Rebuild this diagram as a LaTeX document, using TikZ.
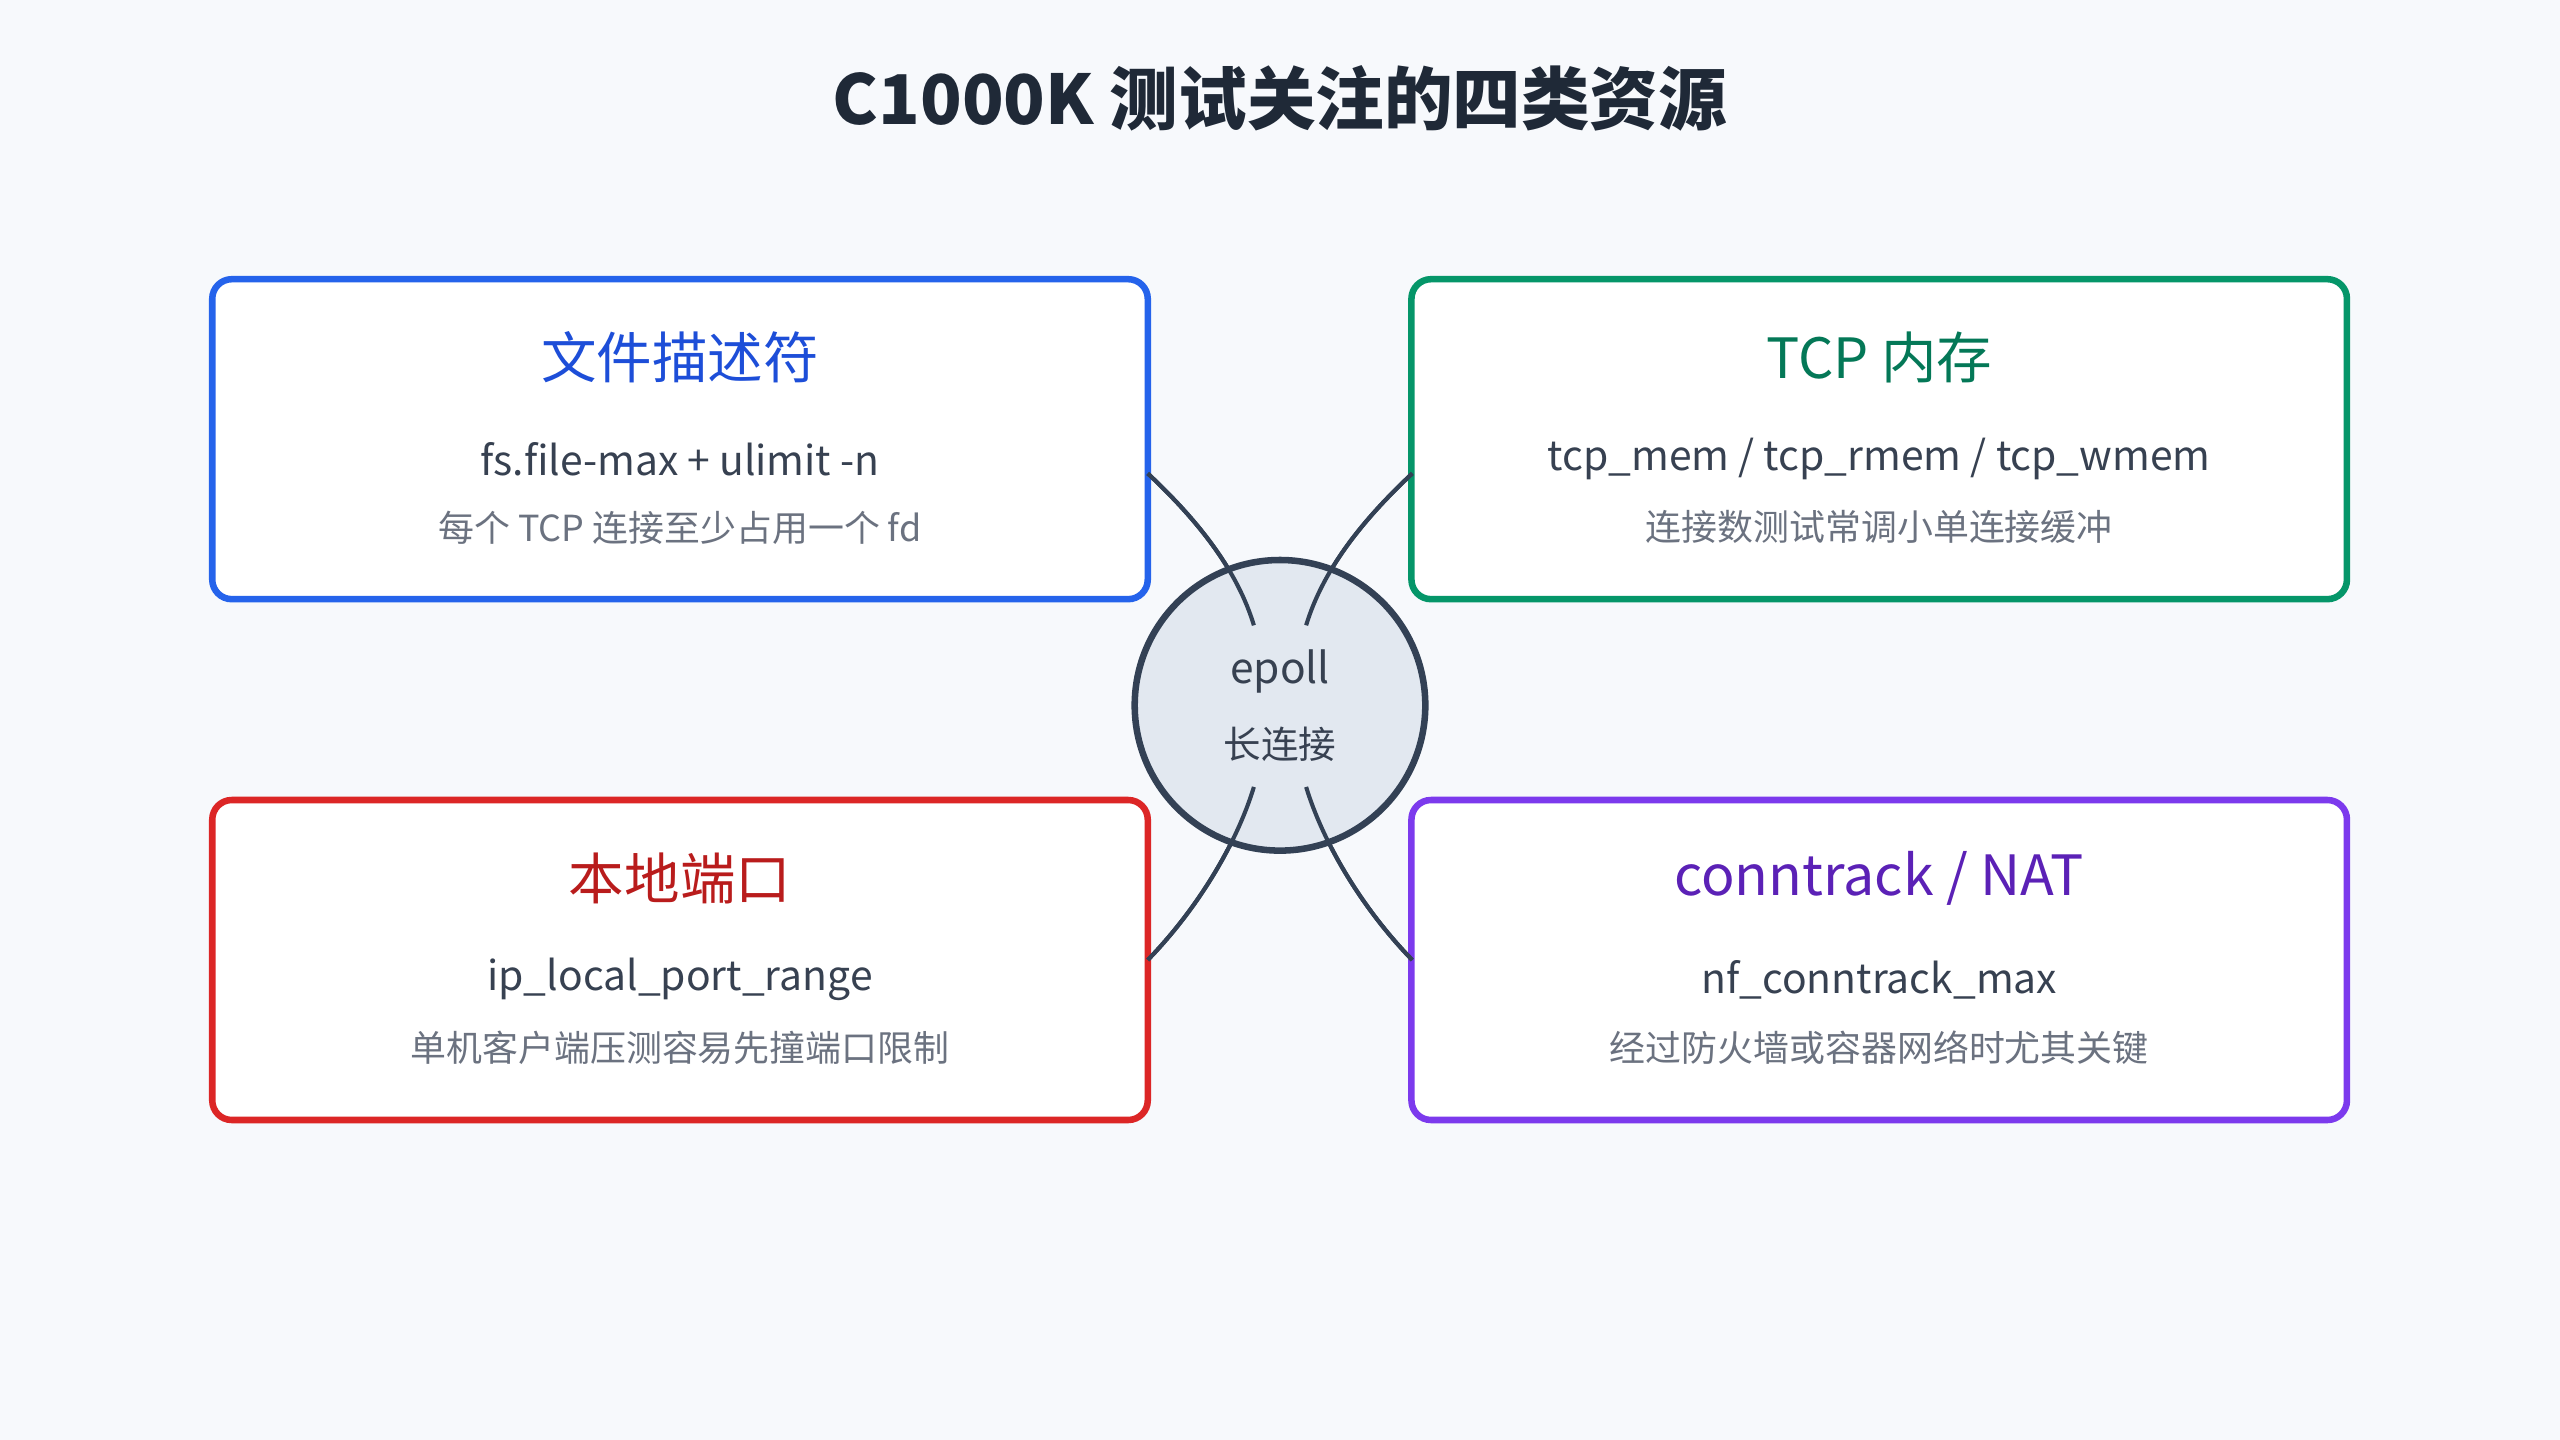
\documentclass[tikz,border=0pt]{standalone}
\usepackage{fontspec}
\setmainfont{Noto Sans CJK SC}
\definecolor{bg}{HTML}{F7F9FC}
\definecolor{cblue}{HTML}{2563EB}\definecolor{tblue}{HTML}{1D4ED8}
\definecolor{cgreen}{HTML}{059669}\definecolor{tgreen}{HTML}{047857}
\definecolor{cred}{HTML}{DC2626}\definecolor{tred}{HTML}{B91C1C}
\definecolor{cpurple}{HTML}{7C3AED}\definecolor{tpurple}{HTML}{5B21B6}
\definecolor{dark}{HTML}{1F2937}\definecolor{body}{HTML}{374151}
\definecolor{gray}{HTML}{6B7280}\definecolor{slate}{HTML}{334155}
\definecolor{cfill}{HTML}{E2E8F0}
\begin{document}
\begin{tikzpicture}[x=1pt,y=-1pt,
 card/.style={draw=#1,line width=4pt,rounded corners=12pt,fill=white,minimum width=573pt,minimum height=196pt,inner sep=0pt},
 head/.style={font=\fontsize{34}{38}\selectfont},
 line1/.style={font=\fontsize{25}{28}\selectfont,text=body},
 line2/.style={font=\fontsize{22}{26}\selectfont,text=gray},
 link/.style={draw=slate,line width=2.5pt}]
\fill[bg] (0,0) rectangle (1568,882);
\useasboundingbox (0,0) rectangle (1568,882);
\node[font=\fontsize{42}{46}\selectfont\bfseries,text=dark] (title) at (784,60) {C1000K 测试关注的四类资源};
\node[card=cblue] (b1) at (416.5,269) {};
\node[card=cgreen] (b2) at (1151,269) {};
\node[card=cred] (b3) at (416.5,588) {};
\node[card=cpurple] (b4) at (1151,588) {};
\coordinate (c1) at (768,383);\coordinate (c2) at (800,383);
\coordinate (c3) at (768,482);\coordinate (c4) at (800,482);
\draw[link] (703,290) .. controls (735,320) and (758,350) .. (c1);
\draw[link] (865,290) .. controls (833,320) and (810,350) .. (c2);
\draw[link] (703,588) .. controls (735,555) and (758,515) .. (c3);
\draw[link] (865,588) .. controls (833,555) and (810,515) .. (c4);
\node[circle,draw=slate,line width=4pt,fill=cfill,minimum size=178pt] (hub) at (784,432) {};
\draw[link] (703,290) .. controls (735,320) and (758,350) .. (c1);
\draw[link] (865,290) .. controls (833,320) and (810,350) .. (c2);
\draw[link] (703,588) .. controls (735,555) and (758,515) .. (c3);
\draw[link] (865,588) .. controls (833,555) and (810,515) .. (c4);
\node[font=\fontsize{26}{30}\selectfont,text=body] (ep) at (784,411) {epoll};
\node[font=\fontsize{23}{26}\selectfont,text=body] (lc) at (784,456) {长连接};
\node[head,text=tblue] at (416.5,219) {文件描述符};
\node[line1] at (416.5,281) {fs.file-max + ulimit -n};
\node[line2] at (416.5,323) {每个 TCP 连接至少占用一个 fd};
\node[head,text=tgreen] at (1151,219) {TCP 内存};
\node[line1] at (1151,281) {tcp\_mem / tcp\_rmem / tcp\_wmem};
\node[line2] at (1151,323) {连接数测试常调小单连接缓冲};
\node[head,text=tred] at (416.5,538) {本地端口};
\node[line1] at (416.5,600) {ip\_local\_port\_range};
\node[line2] at (416.5,642) {单机客户端压测容易先撞端口限制};
\node[head,text=tpurple] at (1151,538) {conntrack / NAT};
\node[line1] at (1151,600) {nf\_conntrack\_max};
\node[line2] at (1151,642) {经过防火墙或容器网络时尤其关键};
\end{tikzpicture}
\end{document}
